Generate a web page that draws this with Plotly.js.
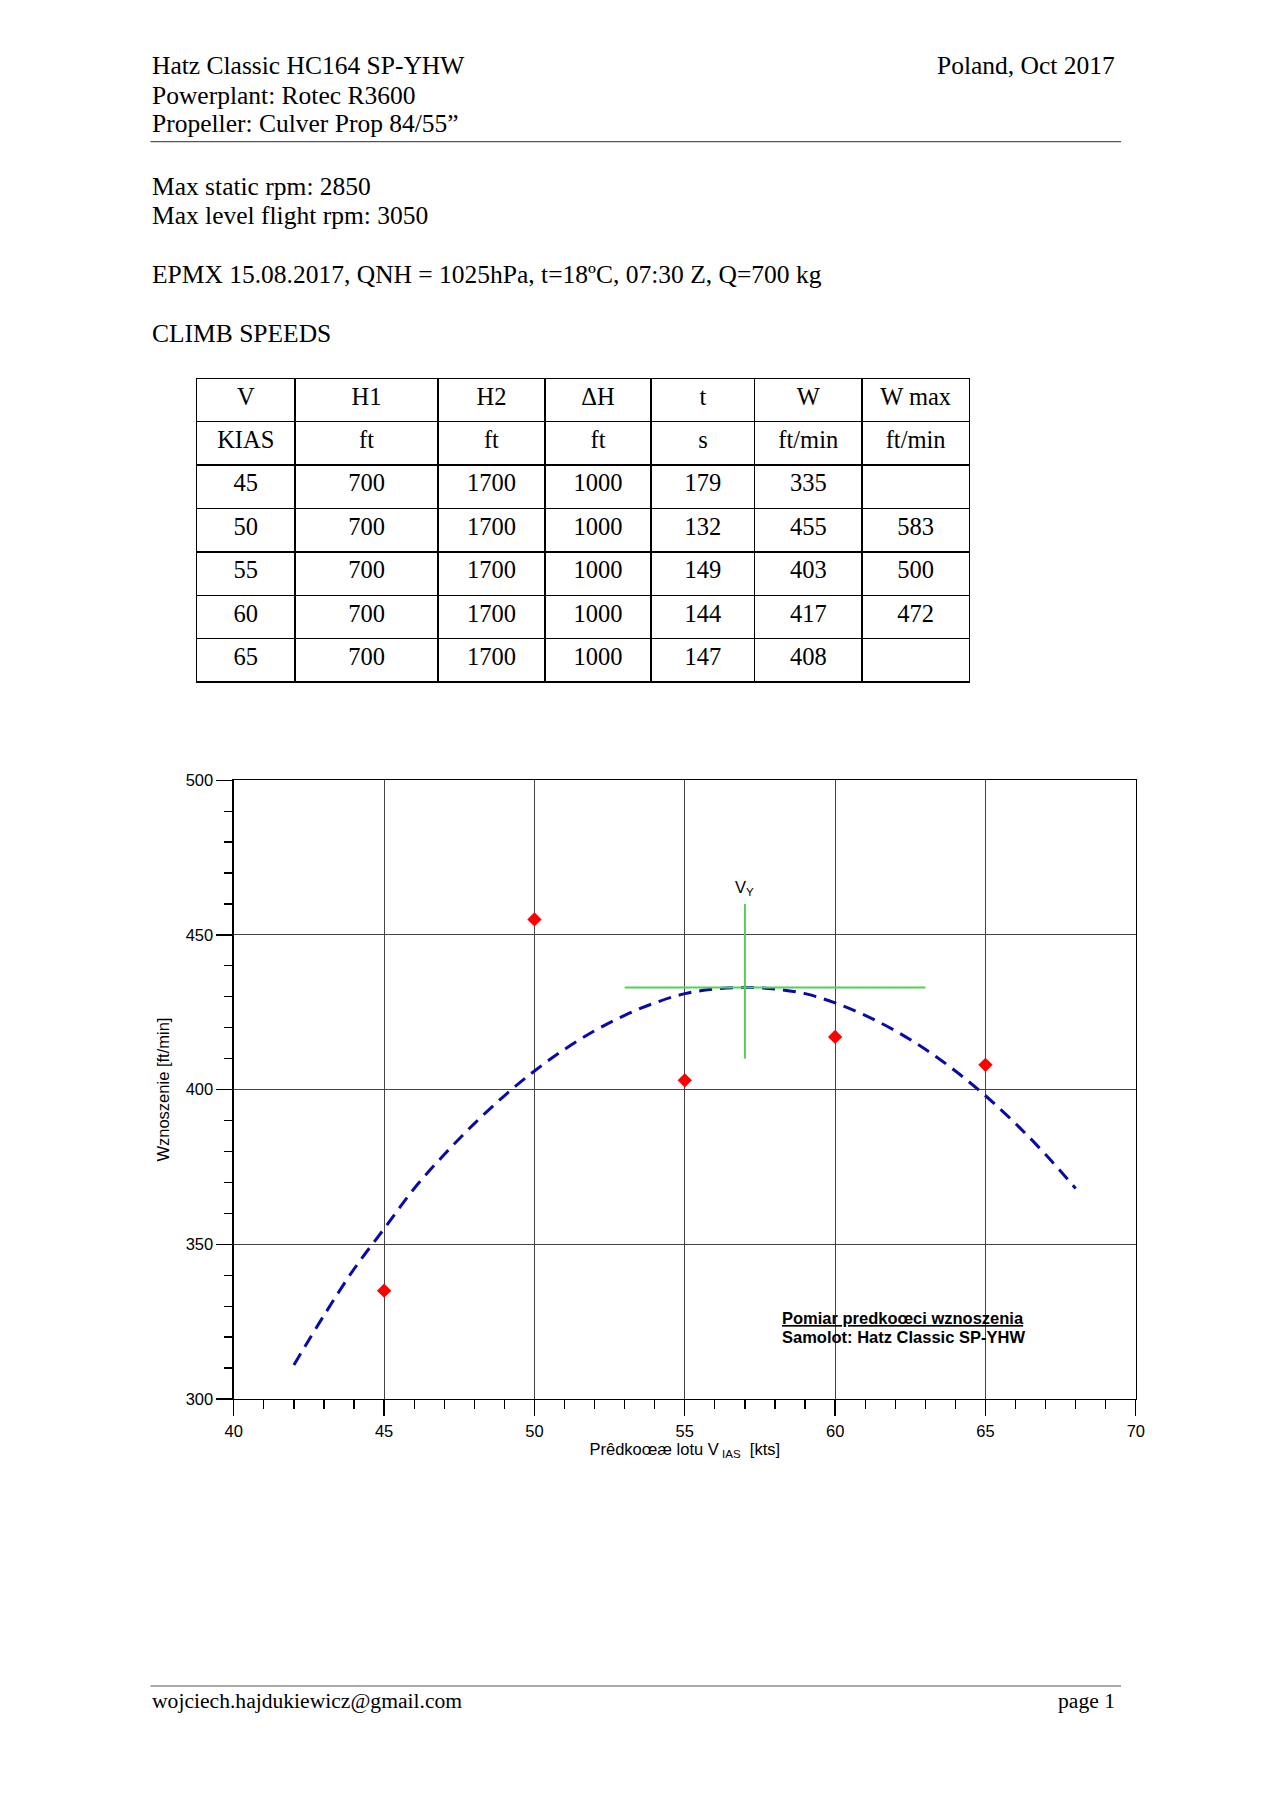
<!DOCTYPE html>
<html>
<head>
<meta charset="utf-8">
<script src="https://cdn.plot.ly/plotly-3.0.1.min.js"></script>
<style>
  html, body { margin: 0; padding: 0; background: #ffffff; }
  #chart { width: 1271px; height: 1796px; }
</style>
</head>
<body>
<div id="chart"></div>
<script>
// ---- Header texts ----
const headerLeft = ["Hatz Classic HC164 SP-YHW", "Powerplant: Rotec R3600", "Propeller: Culver Prop 84/55\u201D"];
const headerRight = "Poland, Oct 2017";
const infoLines = ["Max static rpm: 2850", "Max level flight rpm: 3050", "EPMX 15.08.2017, QNH = 1025hPa, t=18\u00BAC, 07:30 Z, Q=700 kg", "CLIMB SPEEDS"];
const footerLeft = "wojciech.hajdukiewicz@gmail.com";
const footerRight = "page 1";

// ---- Table data ----
const tableHead = ["V", "H1", "H2", "\u0394H", "t", "W", "W max"];
const tableUnits = ["KIAS", "ft", "ft", "ft", "s", "ft/min", "ft/min"];
const speedV = [45, 50, 55, 60, 65];
const heightH1 = [700, 700, 700, 700, 700];
const heightH2 = [1700, 1700, 1700, 1700, 1700];
const deltaH = [1000, 1000, 1000, 1000, 1000];
const timeT = [179, 132, 149, 144, 147];
const climbW = [335, 455, 403, 417, 408];
const climbWmax = ["", 583, 500, 472, ""];

// ---- Fitted curve ----
const fitX = [42, 43, 44, 45, 46, 47, 48, 49, 50, 51, 52, 53, 54, 55, 56, 57, 58, 59, 60, 61, 62, 63, 64, 65, 66, 67, 68];
const fitY = [311, 327, 342, 355, 368, 379, 389, 398, 406, 413, 419, 424, 428, 431, 432.5, 433, 432.5, 431, 428, 424, 419, 413, 406, 398, 389, 379, 368];

// ---- Vy cross ----
const vyX = [53, 63];
const vyYh = [433, 433];
const vyXv = [57, 57];
const vyYv = [410, 460];

// ---- Chart texts ----
const xTitle = "Pr\u00EAdko\u0153\u00E6 lotu V<sub> IAS</sub>  [kts]";
const yTitle = "Wznoszenie [ft/min]";
const noteLine1 = "<b><u>Pomiar predko\u0153ci wznoszenia</u></b>";
const noteLine2 = "<b>Samolot: Hatz Classic SP-YHW</b>";
const vyLabel = "V<sub>Y</sub>";

const W = 1271, H = 1796;
const px = v => v / W;
const py = v => 1 - v / H;

const serif = "Liberation Serif, Times New Roman, serif";
const sans = "Liberation Sans, Arial, sans-serif";

const traces = [
  {
    type: "table",
    domain: { x: [px(190), px(975)], y: [py(760), py(373)] },
    columnwidth: [99, 143, 107, 106.5, 103.5, 107.5, 107.5],
    header: {
      values: tableHead.map((h, i) => [h, tableUnits[i]]),
      height: 43.4,
      align: "center",
      line: { color: "black", width: 1.5 },
      fill: { color: "white" },
      font: { family: serif, size: 24.5, color: "black" }
    },
    cells: {
      values: [speedV, heightH1, heightH2, deltaH, timeT, climbW, climbWmax],
      height: 43.4,
      align: "center",
      line: { color: "black", width: 1.5 },
      fill: { color: "white" },
      font: { family: serif, size: 24.5, color: "black" }
    }
  },
  {
    type: "scatter", mode: "lines", x: fitX, y: fitY,
    line: { color: "#0A0AA6", width: 3, dash: "13px,8px", shape: "spline" },
    hoverinfo: "skip", showlegend: false
  },
  {
    type: "scatter", mode: "lines", x: vyX, y: vyYh,
    line: { color: "#55D055", width: 2 }, showlegend: false
  },
  {
    type: "scatter", mode: "lines", x: vyXv, y: vyYv,
    line: { color: "#55D055", width: 2 }, showlegend: false
  },
  {
    type: "scatter", mode: "markers", x: speedV, y: climbW,
    marker: { symbol: "diamond", size: 11, color: "#FF0000", line: { width: 0 } },
    showlegend: false
  }
];

const annotations = [];
headerLeft.forEach((t, i) => {
  annotations.push({ xref: "paper", yref: "paper", x: px(143.5), y: py([57, 87, 116][i]), xanchor: "left", yanchor: "middle",
    text: t, showarrow: false, font: { family: serif, size: 25.5, color: "black" } });
});
annotations.push({ xref: "paper", yref: "paper", x: px(1124), y: py(57), xanchor: "right", yanchor: "middle",
  text: headerRight, showarrow: false, font: { family: serif, size: 25.5, color: "black" } });
infoLines.forEach((t, i) => {
  annotations.push({ xref: "paper", yref: "paper", x: px(143.5), y: py([179, 209, 268, 328][i]), xanchor: "left", yanchor: "middle",
    text: t, showarrow: false, font: { family: serif, size: 25.5, color: "black" } });
});
annotations.push({ xref: "paper", yref: "paper", x: px(143.5), y: py(1709), xanchor: "left", yanchor: "middle",
  text: footerLeft, showarrow: false, font: { family: serif, size: 21.6, color: "black" } });
annotations.push({ xref: "paper", yref: "paper", x: px(1124), y: py(1709), xanchor: "right", yanchor: "middle",
  text: footerRight, showarrow: false, font: { family: serif, size: 21.6, color: "black" } });
annotations.push({ xref: "x", yref: "y", x: 57, y: 465, xanchor: "center", yanchor: "middle",
  text: vyLabel, showarrow: false, font: { family: sans, size: 16.5, color: "black" } });
annotations.push({ xref: "x", yref: "y", x: 58.15, y: 326.3, xanchor: "left", yanchor: "middle",
  text: noteLine1, showarrow: false, font: { family: sans, size: 16.5, color: "black" } });
annotations.push({ xref: "x", yref: "y", x: 58.15, y: 320.1, xanchor: "left", yanchor: "middle",
  text: noteLine2, showarrow: false, font: { family: sans, size: 16.5, color: "black" } });

const shapes = [
  { type: "line", xref: "paper", yref: "paper", x0: px(143.5), x1: px(1128), y0: py(134), y1: py(134), line: { color: "#555", width: 1.2 } },
  { type: "line", xref: "paper", yref: "paper", x0: px(143.5), x1: px(1128), y0: py(1694), y1: py(1694), line: { color: "#555", width: 1.2 } }
];

const layout = {
  width: W, height: H,
  margin: { l: 0, r: 0, t: 0, b: 0, pad: 0 },
  paper_bgcolor: "white", plot_bgcolor: "white",
  showlegend: false,
  font: { family: sans, color: "black" },
  xaxis: {
    domain: [px(228), px(1143)],
    range: [40, 70], dtick: 5, tick0: 40,
    showline: true, linecolor: "black", linewidth: 1.3, mirror: true,
    ticks: "outside", ticklen: 16, tickcolor: "black", tickwidth: 1.3,
    showgrid: true, gridcolor: "#444", gridwidth: 1,
    zeroline: false,
    tickfont: { family: sans, size: 16.5, color: "black" },
    ticklabelstandoff: 1,
    minor: { dtick: 1, ticks: "outside", ticklen: 9, tickcolor: "black", tickwidth: 1.2, showgrid: false },
    title: { text: xTitle, font: { family: sans, size: 16.5, color: "black" }, standoff: 0 },
    automargin: true, fixedrange: true
  },
  yaxis: {
    domain: [py(1404), py(779)],
    range: [300, 500], dtick: 50, tick0: 300,
    showline: true, linecolor: "black", linewidth: 1.3, mirror: true,
    ticks: "outside", ticklen: 16, tickcolor: "black", tickwidth: 1.3,
    showgrid: true, gridcolor: "#444", gridwidth: 1,
    zeroline: false,
    tickfont: { family: sans, size: 16.5, color: "black" },
    minor: { dtick: 10, ticks: "outside", ticklen: 8, tickcolor: "black", tickwidth: 1.2, showgrid: false },
    title: { text: yTitle, font: { family: sans, size: 16.5, color: "black" }, standoff: 12 },
    automargin: true, fixedrange: true
  },
  annotations: annotations,
  shapes: shapes
};

Plotly.newPlot("chart", traces, layout, { displayModeBar: false, staticPlot: true });
</script>
</body>
</html>
